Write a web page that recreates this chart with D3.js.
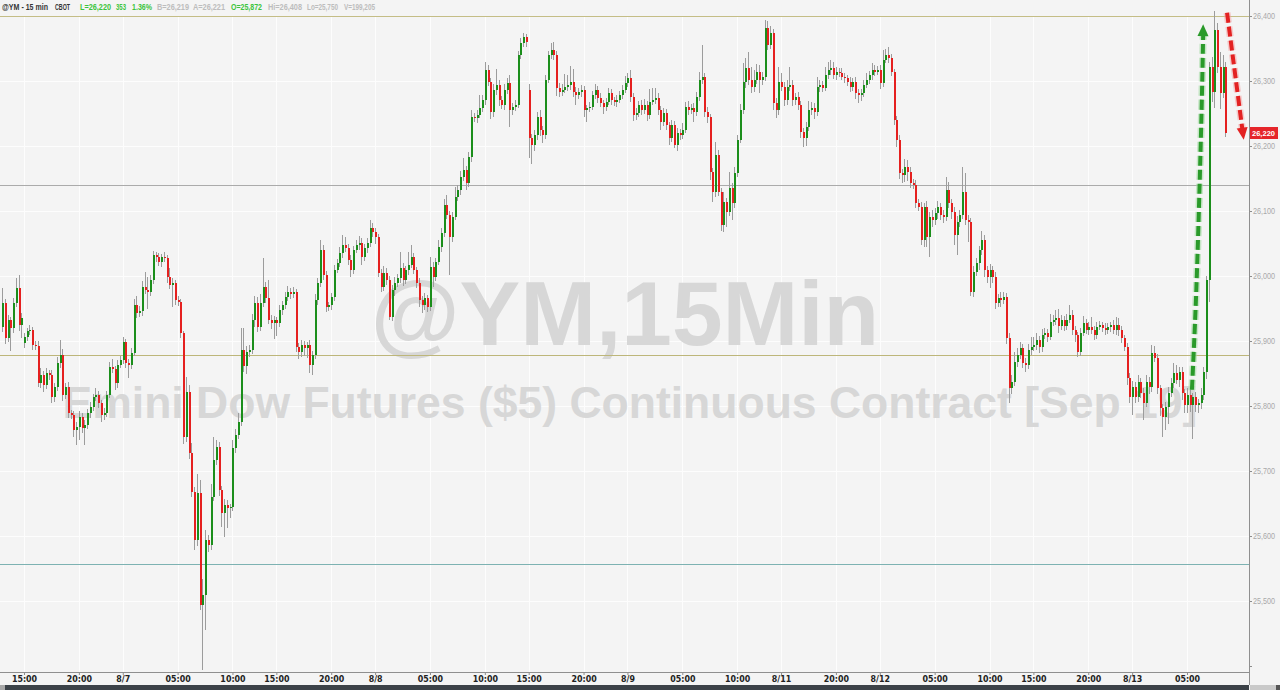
<!DOCTYPE html>
<html><head><meta charset="utf-8">
<script src="https://cdn.jsdelivr.net/npm/d3@7"></script>
<style>
html,body{margin:0;padding:0;background:#f4f4f4;overflow:hidden;}
svg{display:block;}
</style></head><body>
<svg id="c" width="1280" height="690"></svg>
<script>
// ---------- DATA (15-min bars, @YM) ----------
const closes = [
25958,25905,25932,25920,25958,25982,25925,25935,25906,25915,
25917,25894,25892,25835,25848,25832,25851,25848,25814,25829,
25866,25878,25817,25829,25789,25786,25763,25768,25783,25766,
25771,25789,25798,25814,25817,25805,25786,25789,25817,25860,
25857,25835,25863,25871,25898,25866,25863,25882,25955,25943,
25946,25983,25978,25975,25994,26032,26029,26022,26029,26027,
25998,25986,25989,25963,25960,25912,25752,25822,25728,25668,
25594,25666,25494,25509,25594,25586,25660,25717,25737,25671,
25635,25647,25643,25644,25735,25755,25775,25886,25862,25883,
25886,25932,25958,25922,25958,25983,25966,25932,25928,25932,
25928,25948,25955,25968,25975,25972,25975,25891,25883,25894,
25889,25894,25863,25878,25963,25989,26040,26002,25952,25955,
25968,26009,26020,26035,26048,26043,26025,26009,26040,26048,
26051,26029,26043,26051,26074,26068,26060,26005,25983,26005,
25994,25937,25978,25989,25997,26012,25994,26009,26017,26029,
26009,25989,25963,25955,25966,25952,26014,25998,26022,26045,
26066,26109,26094,26060,26091,26122,26132,26152,26163,26143,
26183,26245,26243,26248,26258,26271,26317,26298,26252,26286,
26294,26271,26263,26286,26297,26255,26260,26263,26340,26358,
26368,26360,26212,26202,26217,26245,26225,26217,26302,26340,
26348,26340,26289,26283,26286,26291,26294,26298,26283,26278,
26283,26286,26255,26258,26260,26278,26286,26274,26266,26260,
26268,26282,26271,26268,26271,26278,26286,26297,26305,26275,
26248,26251,26263,26255,26263,26248,26268,26271,26274,26255,
26237,26251,26232,26212,26232,26202,26220,26217,26225,26260,
26255,26258,26252,26275,26302,26306,26252,26245,26160,26129,
26186,26129,26078,26114,26098,26135,26112,26158,26209,26255,
26298,26320,26302,26291,26302,26314,26302,26306,26382,26355,
26374,26266,26255,26298,26291,26271,26291,26294,26271,26275,
26263,26222,26212,26229,26255,26258,26252,26291,26294,26289,
26309,26317,26320,26309,26314,26312,26306,26305,26298,26291,
26298,26282,26278,26282,26294,26302,26309,26317,26314,26317,
26297,26332,26340,26335,26314,26240,26209,26158,26155,26168,
26160,26143,26140,26112,26106,26055,26106,26060,26091,26086,
26097,26106,26094,26091,26132,26112,26098,26063,26083,26094,
26129,26086,26083,25975,26006,26020,26040,26055,26009,25998,
26009,25998,25958,25966,25963,25968,25905,25828,25837,25868,
25878,25889,25866,25863,25886,25891,25894,25902,25891,25909,
25912,25906,25929,25932,25935,25923,25932,25923,25932,25940,
25917,25909,25883,25912,25928,25917,25922,25917,25909,25922,
25925,25920,25917,25922,25925,25917,25925,25917,25905,25891,
25843,25814,25829,25814,25837,25820,25805,25837,25829,25882,
25874,25828,25797,25783,25798,25820,25835,25851,25840,25852,
25820,25801,25817,25801,25814,25801,25805,25817,25852,25994,
26322,26283,26378,26322,26282,26322,26220
];
// upper / lower wick lengths in index points
const wickUp = [
23,6,8,5,8,15,20,8,6,5, 8,5,6,8,10,6,8,5,8,6, 10,23,10,6,8,5,6,8,10,6, 8,6,8,5,10,6,5,8,6,8,
12,5,8,6,8,5,6,8,10,15, 8,10,23,20,8,6,5,6,5,8, 6,15,8,5,6,5,3,23,10,15, 8,30,20,25,15,8,20,35,10,8,
6,10,8,6,12,10,15,34,34,10, 8,10,12,10,15,45,8,28,8,6, 5,8,6,8,10,6,8,5,6,8, 6,5,8,6,10,8,15,8,6,5,
6,8,6,10,15,12,6,8,6,8, 10,8,6,8,12,8,6,5,6,10, 8,6,8,10,6,25,8,6,20,18, 6,5,8,6,8,5,15,8,6,10,
8,10,15,6,8,15,8,10,18,6, 8,10,6,8,20,8,12,8,6,10, 25,8,6,10,8,12,6,8,6,8, 6,5,10,6,8,8,10,6,8,6,
10,12,6,8,10,20,15,25,20,8, 6,8,6,5,8,6,10,6,8,5, 6,8,6,5,8,6,8,10,8,12, 6,8,6,8,10,6,20,18,15,8,
6,8,6,5,8,6,8,6,10,8, 10,6,8,8,12,50,6,8,5,6, 20,8,6,15,6,25,8,10,8,10, 30,15,25,20,15,12,10,8,12,10,
10,6,8,23,15,8,10,28,8,6, 8,6,5,8,15,10,8,15,8,6, 12,12,12,10,8,6,8,6,5,8, 6,8,5,6,8,10,6,10,8,6,
8,15,10,12,6,5,6,8,6,12, 10,8,6,8,6,8,6,10,8,10, 8,10,6,8,20,12,6,8,10,8, 38,30,8,6,10,8,6,15,8,6,
10,6,8,6,10,8,6,8,10,15, 12,10,6,8,10,15,12,10,6,10, 8,6,12,8,12,15,8,6,10,15, 8,6,5,8,10,6,8,15,6,8,
6,5,8,6,5,8,12,10,6,5, 6,8,10,8,10,6,8,10,8,12, 10,6,5,6,8,10,8,15,12,8, 8,6,10,8,6,8,6,10,8,6,
8,15,30,12,23,18,8
];
const wickDown = [
8,10,6,35,8,6,10,20,8,6, 5,8,6,6,8,10,6,8,10,8, 6,8,10,6,8,6,10,23,20,8, 26,6,8,5,6,8,10,8,6,5,
6,10,8,5,6,8,20,6,5,8, 6,8,6,25,5,6,8,6,8,5, 8,6,33,8,6,8,10,8,10,8, 15,10,8,100,54,10,8,6,8,10,
21,37,30,15,6,8,5,6,10,12, 8,6,10,8,6,5,8,6,10,25, 20,6,8,5,6,8,6,8,10,8, 12,15,12,15,6,8,6,8,8,6,
8,6,5,6,8,6,8,10,6,5, 8,12,6,8,6,8,10,6,8,6, 8,5,6,8,6,8,10,6,8,5, 6,8,10,12,8,8,6,15,6,5,
8,6,6,58,8,5,6,8,6,10, 6,8,6,8,5,6,8,6,10,8, 8,10,6,8,6,26,8,6,5,6, 5,8,30,30,10,8,10,12,6,5,
6,8,12,8,6,5,6,8,8,15, 6,8,10,18,6,5,6,8,6,10, 6,5,8,6,8,5,6,5,6,8, 10,8,6,8,6,10,6,5,6,8,
12,6,8,10,6,5,10,8,6,5, 8,6,15,6,5,6,8,10,12,15, 8,6,8,10,23,6,26,8,6,5, 6,8,8,10,8,6,20,8,6,8,
6,10,12,8,6,10,8,6,10,8, 8,10,14,12,6,8,10,6,8,6, 5,6,8,6,8,6,5,8,6,8, 6,10,12,8,6,5,6,8,6,5,
10,6,5,8,6,8,10,8,12,10, 14,8,6,8,6,8,10,15,30,10, 8,10,8,10,6,8,10,15,30,8, 6,8,30,5,8,6,10,8,10,8,
16,8,8,6,10,6,10,23,10,6, 8,6,8,10,6,8,6,8,10,8, 6,8,5,6,8,10,6,8,6,5, 8,10,8,6,5,6,8,6,8,6,
5,6,8,6,8,6,8,10,8,6, 10,10,28,10,8,8,26,6,10,8, 6,10,12,31,20,25,6,8,6,10, 10,12,12,10,51,10,12,10,8,10,
34,15,25,10,25,8,6
];
// bars whose open is not the previous close (first bar and session opens)
const gapOpens = [[0, 25922], [8, 25897], [192, 26286]];
const timeTicks = [
[8,"15:00"],[28,"20:00"],[44,"8/7"],[64,"05:00"],[84,"10:00"],[100,"15:00"],[120,"20:00"],
[136,"8/8"],[156,"05:00"],[176,"10:00"],[192,"15:00"],[212,"20:00"],[228,"8/9"],[248,"05:00"],
[268,"10:00"],[284,"8/11"],[304,"20:00"],[320,"8/12"],[340,"05:00"],[360,"10:00"],[376,"15:00"],
[396,"20:00"],[412,"8/13"],[432,"05:00"]
];
const priceTicks = [25400,25500,25600,25700,25800,25900,26000,26100,26200,26300,26400];
const refLines = [[26400,"#c4bd86"],[25878,"#bdb67a"],[26140,"#ababab"],[25557,"#7db2b2"]];
const headerParts = [
["@YM - 15 min","#333333"],["CBOT","#333333"],["L=26,220","#3cc43c"],["353","#3cc43c"],
["1.36%","#3cc43c"],["B=26,219","#bdbdbd"],["A=26,221","#bdbdbd"],["O=25,872","#3cc43c"],
["Hi=26,408","#bdbdbd"],["Lo=25,750","#bdbdbd"],["V=199,205","#bdbdbd"]
];
const headerX = [2,55,80,116,132,157,193,231,268,307,344];
const headerW = [46,15,31,10,20,32,32,31,34,31,31];
const lastPrice = 26220;
const watermark1 = "@YM,15Min";
const watermark2 = "Emini Dow Futures ($5) Continuous Contract [Sep 19]";
// annotation arrows in (bar index, price)
const greenArrow = [[433.8,25825],[435.3,25958],[436.4,26108],[437.4,26262],[437.9,26372]];
const redArrow = [[446.6,26405],[452.2,26225]];

// ---------- CHART ----------
const W = 1280, H = 690, plotR = 1249, plotB = 672;
const svg = d3.select("#c");
const gapMap = new Map(gapOpens);
const bars = closes.map((c, i) => {
  const o = gapMap.has(i) ? gapMap.get(i) : closes[i - 1];
  return {i, o, c, h: Math.max(o, c) + wickUp[i], l: Math.min(o, c) - wickDown[i]};
});

const x = d3.scaleLinear().domain([0, 446]).range([2.06, 1225.4]);
const y = d3.scaleLinear().domain([25400, 26400]).range([666, 16]);

svg.append("rect").attr("width", W).attr("height", H).attr("fill", "#f4f4f4");

const defs = svg.append("defs");
defs.append("clipPath").attr("id", "plot").append("rect")
  .attr("x", 0).attr("y", 0).attr("width", plotR).attr("height", plotB);

// grid
const grid = svg.append("g").attr("shape-rendering", "crispEdges");
grid.selectAll("line.h").data(priceTicks.slice(1, -1)).join("line")
  .attr("x1", 0).attr("x2", plotR)
  .attr("y1", d => Math.round(y(d)) + 0.5).attr("y2", d => Math.round(y(d)) + 0.5)
  .attr("stroke", "#fdfdfd").attr("stroke-width", 1);
grid.selectAll("line.v").data(timeTicks).join("line")
  .attr("x1", d => Math.round(x(d[0])) + 0.5).attr("x2", d => Math.round(x(d[0])) + 0.5)
  .attr("y1", 17).attr("y2", plotB)
  .attr("stroke", "#fdfdfd").attr("stroke-width", 1);

// watermark
svg.append("text").attr("x", 625).attr("y", 345).attr("text-anchor", "middle")
  .attr("font-family", "Liberation Sans, Arial, sans-serif").attr("font-weight", "bold")
  .attr("font-size", 91).attr("fill", "#d7d7d7").text(watermark1);
svg.append("text").attr("x", 630).attr("y", 418).attr("text-anchor", "middle")
  .attr("font-family", "Liberation Sans, Arial, sans-serif").attr("font-weight", "bold")
  .attr("font-size", 44.5).attr("fill", "#d7d7d7").text(watermark2);

// reference lines
svg.append("g").attr("shape-rendering", "crispEdges").selectAll("line").data(refLines).join("line")
  .attr("x1", 0).attr("x2", plotR)
  .attr("y1", d => Math.round(y(d[0])) + 0.5).attr("y2", d => Math.round(y(d[0])) + 0.5)
  .attr("stroke", d => d[1]).attr("stroke-width", 1.2);

// candles
const cg = svg.append("g").attr("clip-path", "url(#plot)").attr("shape-rendering", "crispEdges");
cg.selectAll("line.w").data(bars).join("line")
  .attr("x1", d => Math.round(x(d.i)) + 0.5).attr("x2", d => Math.round(x(d.i)) + 0.5)
  .attr("y1", d => y(d.h)).attr("y2", d => y(d.l))
  .attr("stroke", "#9c9c9c").attr("stroke-width", 1);
cg.selectAll("rect.b").data(bars).join("rect")
  .attr("x", d => Math.round(x(d.i)) - 0.5).attr("width", 2)
  .attr("y", d => y(Math.max(d.o, d.c)))
  .attr("height", d => Math.max(1, Math.abs(y(d.o) - y(d.c))))
  .attr("fill", d => d.c >= d.o ? "#1b8e1b" : "#e5201f");

// arrows
function arrowHead(g, tip, from, color) {
  const ang = Math.atan2(tip[1] - from[1], tip[0] - from[0]);
  const L = 12, Wd = 5.5;
  const bx = tip[0] - L * Math.cos(ang), by = tip[1] - L * Math.sin(ang);
  const px = -Math.sin(ang) * Wd, py = Math.cos(ang) * Wd;
  g.append("path").attr("d", `M${tip[0]},${tip[1]}L${bx + px},${by + py}L${bx - px},${by - py}Z`)
    .attr("fill", color);
}
const ag = svg.append("g");
const lineGen = d3.line().x(d => x(d[0])).y(d => y(d[1])).curve(d3.curveBasis);
ag.append("path").attr("d", lineGen(greenArrow)).attr("fill", "none")
  .attr("stroke", "#9fd89f").attr("stroke-width", 7).attr("stroke-dasharray", "10,4").attr("opacity", 0.55);
ag.append("path").attr("d", lineGen(greenArrow)).attr("fill", "none")
  .attr("stroke", "#2a9a2a").attr("stroke-width", 4).attr("stroke-dasharray", "10,4");
{
  const tip = greenArrow[greenArrow.length - 1], pr = greenArrow[greenArrow.length - 2];
  const tp = [x(tip[0]), y(tip[1]) - 10];
  arrowHead(ag, tp, [x(pr[0]), y(pr[1])], "#2a9a2a");
}
const rl = d3.line().x(d => x(d[0])).y(d => y(d[1]));
ag.append("path").attr("d", rl(redArrow)).attr("fill", "none")
  .attr("stroke", "#f3a0a0").attr("stroke-width", 7).attr("stroke-dasharray", "10,4").attr("opacity", 0.5);
ag.append("path").attr("d", rl(redArrow)).attr("fill", "none")
  .attr("stroke", "#e32222").attr("stroke-width", 4).attr("stroke-dasharray", "10,4");
{
  const a = [x(redArrow[0][0]), y(redArrow[0][1])], b = [x(redArrow[1][0]), y(redArrow[1][1])];
  const ang = Math.atan2(b[1] - a[1], b[0] - a[0]);
  arrowHead(ag, [b[0] + 10 * Math.cos(ang), b[1] + 10 * Math.sin(ang)], a, "#e32222");
}

// axes
const narrow = "'Liberation Sans Narrow','Arial Narrow','DejaVu Sans Condensed',sans-serif";
const yAxis = d3.axisRight(y).tickValues(priceTicks).tickSize(3)
  .tickFormat(v => v === 25400 ? "" : d3.format(",")(v));
const ya = svg.append("g").attr("transform", `translate(${plotR},0)`).call(yAxis);
ya.select(".domain").remove();
ya.selectAll("line").attr("stroke", "#8d8d8d");
ya.selectAll("text").attr("x", 4).attr("dy", "0.35em").attr("fill", "#a9a9a9")
  .attr("font-family", "Liberation Sans, Arial, sans-serif").attr("font-size", 8.3)
  .attr("textLength", v => v === 25400 ? null : 22).attr("lengthAdjust", "spacingAndGlyphs");

const tickMap = new Map(timeTicks);
const xAxis = d3.axisBottom(x).tickValues(timeTicks.map(d => d[0])).tickSize(3)
  .tickFormat(i => tickMap.get(i));
const xa = svg.append("g").attr("transform", `translate(0,${plotB})`).call(xAxis);
xa.select(".domain").remove();
xa.selectAll("line").attr("stroke", "#8d8d8d");
xa.selectAll("text").attr("y", 10).attr("dy", 0).attr("fill", "#222")
  .attr("font-family", narrow).attr("font-weight", "bold").attr("font-size", 8.8);

svg.append("line").attr("x1", 0).attr("x2", plotR + 0.5).attr("y1", plotB + 0.5).attr("y2", plotB + 0.5)
  .attr("stroke", "#8f8f8f").attr("shape-rendering", "crispEdges");
svg.append("line").attr("x1", plotR + 0.5).attr("x2", plotR + 0.5).attr("y1", 0).attr("y2", 685)
  .attr("stroke", "#8f8f8f").attr("shape-rendering", "crispEdges");

// last price tag
const ly = y(lastPrice);
svg.append("rect").attr("x", plotR + 1).attr("y", ly - 6).attr("width", 28).attr("height", 12).attr("fill", "#e5252a");
svg.append("text").attr("x", plotR + 3).attr("y", ly).attr("dy", "0.35em").attr("fill", "#fff")
  .attr("font-family", "Liberation Sans, Arial, sans-serif").attr("font-weight", "bold").attr("font-size", 8)
  .attr("textLength", 23).attr("lengthAdjust", "spacingAndGlyphs").text(d3.format(",")(lastPrice));

// header
const ht = svg.append("g");
headerParts.forEach((p, k) => {
  ht.append("text").attr("x", headerX[k]).attr("y", 9.5).attr("fill", p[1])
    .attr("font-family", "Liberation Sans, Arial, sans-serif").attr("font-weight", "bold")
    .attr("font-size", 8.2).attr("textLength", headerW[k]).attr("lengthAdjust", "spacingAndGlyphs")
    .text(p[0]);
});

// bottom strip
svg.append("rect").attr("x", 0).attr("y", 685).attr("width", 5).attr("height", 5).attr("fill", "#a8a8a8");
svg.append("rect").attr("x", 5).attr("y", 685).attr("width", plotR - 5).attr("height", 5).attr("fill", "#3c4248");
svg.append("rect").attr("x", plotR + 1).attr("y", 685).attr("width", 26).attr("height", 5).attr("fill", "#c9c9c9");
svg.append("rect").attr("x", plotR + 27).attr("y", 685).attr("width", 4).attr("height", 5).attr("fill", "#555");
</script>
</body></html>
